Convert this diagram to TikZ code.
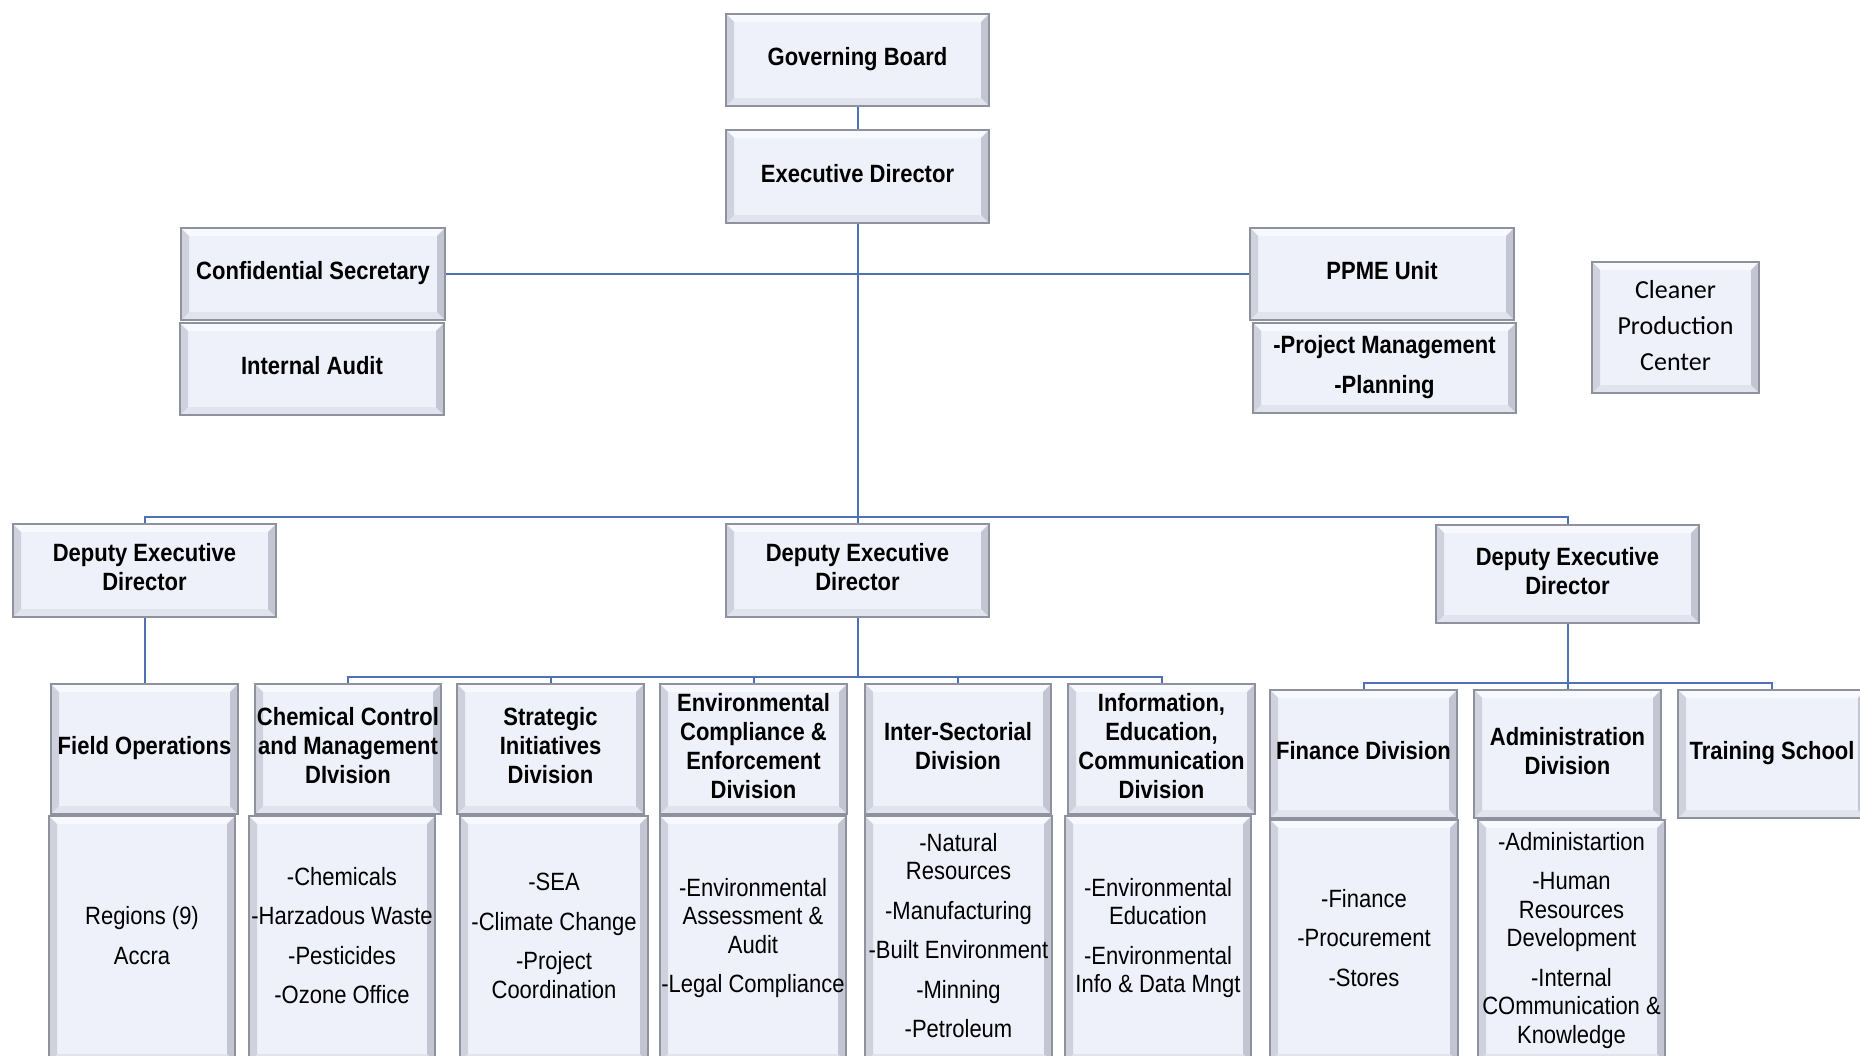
\documentclass[tikz,border=0pt]{standalone}
\usepackage{fontspec}
\newfontfamily\orgfont{Liberation Sans}[FakeStretch=0.88]
\newfontfamily\cpcfont{Carlito}
\definecolor{boxface}{HTML}{EFF1FA}
\definecolor{boxline}{HTML}{8E919E}
\definecolor{bevtop}{HTML}{F8F9FE}
\definecolor{bevbot}{HTML}{E2E4ED}
\definecolor{bevleft}{HTML}{CFD2DD}
\definecolor{bevright}{HTML}{C3C6D2}
\definecolor{linkblue}{HTML}{4F72B5}

% bold heading text and plain list text, stacked and centred
\newcommand\hd[1]{{\orgfont\bfseries\fontsize{25}{29}\selectfont\begin{tabular}{@{}c@{}}#1\end{tabular}}}
\newcommand\ls[1]{{\orgfont\fontsize{25}{28.5}\selectfont\begin{tabular}{@{}c@{}}#1\end{tabular}}}

% bevelled box from (x1,y1) to (x2,y2), y measured downwards
\newcommand\orgbox[6]{%
  \node[orgbox, minimum width={(#4-#2)*1pt}, minimum height={(#5-#3)*1pt}]
    (#1) at ({(#2+#4)/2},{(#3+#5)/2}) {\makebox[0pt]{#6}};}

\tikzset{
  orgbox/.style={rectangle, draw=boxline, line width=1.5pt, fill=boxface, inner sep=0pt,
    path picture={
      \fill[bevtop] (path picture bounding box.north west) -- (path picture bounding box.north east)
        -- ([shift={(-8pt,-8pt)}]path picture bounding box.north east)
        -- ([shift={(8pt,-8pt)}]path picture bounding box.north west) -- cycle;
      \fill[bevbot] (path picture bounding box.south west) -- (path picture bounding box.south east)
        -- ([shift={(-8pt,8pt)}]path picture bounding box.south east)
        -- ([shift={(8pt,8pt)}]path picture bounding box.south west) -- cycle;
      \fill[bevleft] (path picture bounding box.north west)
        -- ([shift={(8pt,-8pt)}]path picture bounding box.north west)
        -- ([shift={(8pt,8pt)}]path picture bounding box.south west)
        -- (path picture bounding box.south west) -- cycle;
      \fill[bevright] (path picture bounding box.north east)
        -- ([shift={(-8pt,-8pt)}]path picture bounding box.north east)
        -- ([shift={(-8pt,8pt)}]path picture bounding box.south east)
        -- (path picture bounding box.south east) -- cycle;
    }},
  link/.style={draw=linkblue, line width=2pt}
}

\begin{document}
\begin{tikzpicture}[x=1pt, y=-1pt]
\useasboundingbox[fill=white] (0,0) rectangle (1860,1055);

% top of the organisation
\orgbox{gb}{726}{14}{989}{106}{\hd{Governing Board}}
\orgbox{ed}{726}{130}{989}{223}{\hd{Executive Director}}

% staff units
\orgbox{cs}{181}{228}{445}{320}{\hd{Confidential Secretary}}
\orgbox{ia}{180}{323}{444}{415}{\hd{Internal Audit}}
\orgbox{ppme}{1250}{228}{1514}{320}{\hd{PPME Unit}}
\orgbox{ppmes}{1253}{323}{1516}{413}{\hd{-Project Management\\[11pt]-Planning}}
\orgbox{cpc}{1592}{262}{1759}{393}{{\cpcfont\fontsize{26}{36}\selectfont\begin{tabular}{@{}c@{}}Cleaner\\Production\\Center\end{tabular}}}

% deputy executive directors
\orgbox{dedl}{13}{524}{276}{617}{\hd{Deputy Executive\\Director}}
\orgbox{dedc}{726}{524}{989}{617}{\hd{Deputy Executive\\Director}}
\orgbox{dedr}{1436}{525}{1699}{623}{\hd{Deputy Executive\\Director}}

% divisions
\orgbox{fo}{51}{684}{238}{814}{\hd{Field Operations}}
\orgbox{fol}{49}{816}{235}{1062}{\ls{Regions (9)\\[11pt]Accra}}
\orgbox{chem}{255}{684}{441}{814}{\hd{Chemical Control\\and Management\\DIvision}}
\orgbox{cheml}{249}{816}{435}{1062}{\ls{-Chemicals\\[11pt]-Harzadous Waste\\[11pt]-Pesticides\\[11pt]-Ozone Office}}
\orgbox{strat}{457}{684}{644}{814}{\hd{Strategic\\Initiatives\\Division}}
\orgbox{stratl}{460}{816}{648}{1062}{\ls{-SEA\\[11pt]-Climate Change\\[11pt]-Project\\Coordination}}
\orgbox{env}{660}{684}{847}{814}{\hd{Environmental\\Compliance \&\\Enforcement\\Division}}
\orgbox{envl}{660}{816}{846}{1062}{\ls{-Environmental\\Assessment \&\\Audit\\[11pt]-Legal Compliance}}
\orgbox{inter}{865}{684}{1051}{814}{\hd{Inter-Sectorial\\Division}}
\orgbox{interl}{865}{816}{1052}{1062}{\ls{-Natural\\Resources\\[11pt]-Manufacturing\\[11pt]-Built Environment\\[11pt]-Minning\\[11pt]-Petroleum}}
\orgbox{iec}{1068}{684}{1255}{814}{\hd{Information,\\Education,\\Communication\\Division}}
\orgbox{iecl}{1065}{816}{1251}{1062}{\ls{-Environmental\\Education\\[11pt]-Environmental\\Info \& Data Mngt}}
\orgbox{fin}{1270}{690}{1457}{818}{\hd{Finance Division}}
\orgbox{finl}{1270}{820}{1458}{1062}{\ls{-Finance\\[11pt]-Procurement\\[11pt]-Stores}}
\orgbox{adm}{1474}{690}{1661}{818}{\hd{Administration\\Division}}
\orgbox{adml}{1478}{820}{1665}{1062}{\ls{-Administartion\\[11pt]-Human\\Resources\\Development\\[11pt]-Internal\\COmmunication \&\\Knowledge}}
\orgbox{train}{1678}{690}{1866}{818}{\hd{Training School}}

% reporting lines
\coordinate (bustop) at (857.5,517);
\coordinate (busmid) at (857.5,677);
\coordinate (busright) at (1567.5,683);
\draw[link] (gb) -- (ed);
\draw[link] (ed.south) -- (dedc.north);
\draw[link] (cs.east) -- (ppme.west);
\draw[link] (dedl.north) |- (bustop) -| (dedr.north);
\draw[link] (dedl.south) -- (fo.north);
\draw[link] (dedc.south) -- (busmid);
\draw[link] (chem.north) |- (busmid) -| (iec.north);
\draw[link] (strat.north) -- (strat.north |- busmid);
\draw[link] (env.north) -- (env.north |- busmid);
\draw[link] (inter.north) -- (inter.north |- busmid);
\draw[link] (dedr.south) -- (adm.north);
\draw[link] (fin.north) |- (busright) -| (train.north);
\end{tikzpicture}
\end{document}
